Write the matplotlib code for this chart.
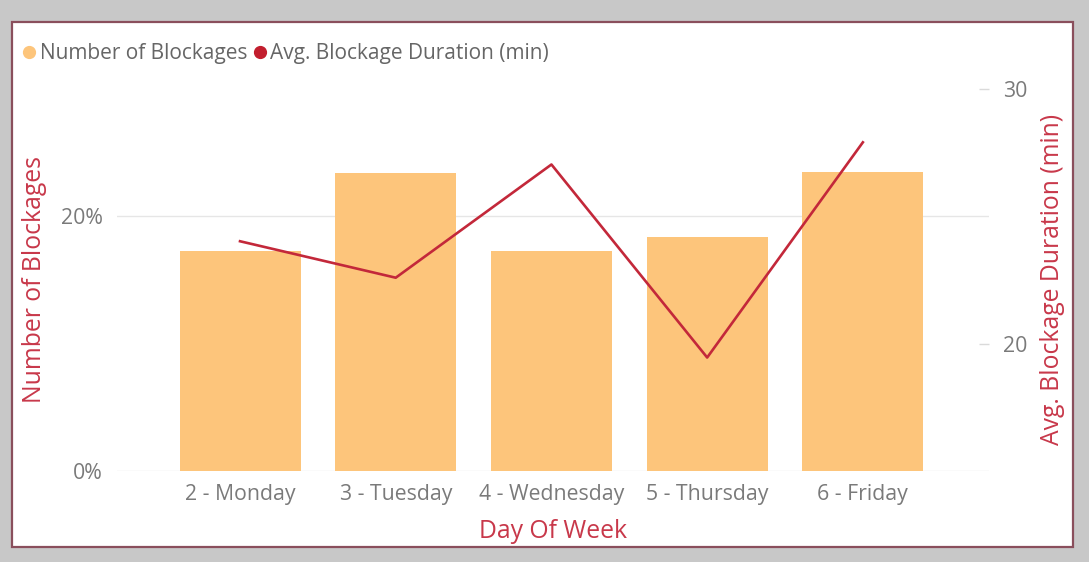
"""Blockages by day of week: share of blockages (bars) and average
blockage duration (line, right axis)."""
import matplotlib

matplotlib.use("Agg")
import matplotlib.pyplot as plt
from matplotlib.lines import Line2D
from matplotlib.patches import Rectangle
from matplotlib.ticker import FuncFormatter

plt.rcParams["font.family"] = ["Open Sans", "DejaVu Sans"]

days = ["2 - Monday", "3 - Tuesday", "4 - Wednesday", "5 - Thursday", "6 - Friday"]
blockage_share = [0.1728, 0.2340, 0.1728, 0.1835, 0.2342]   # fraction of all blockages
avg_duration = [24.01, 22.58, 27.02, 19.45, 27.89]          # minutes

BAR_C = "#FDC57B"
LINE_C = "#C3283A"
TITLE_C = "#C8384A"
TICK_C = "#7A7A7A"
GRID_C = "#E6E6E6"
FS_TICK = 15.3
FS_TITLE = 17.8

W, H = 1089, 562
fig = plt.figure(figsize=(W / 100, H / 100), dpi=100, facecolor="#C8C8C8")

# white card with the thin maroon border (behind the axes)
fig.patches.append(Rectangle((12.5 / W, 1 - 547 / H), (1073 - 12.5) / W, (547 - 21.5) / H,
                             transform=fig.transFigure, facecolor="white",
                             edgecolor="#8A4F5C", lw=1.6, zorder=-5))

ax = fig.add_axes([117 / W, 1 - 471 / H, (989 - 117) / W, (471 - 88.5) / H])
ax.set_facecolor("none")
x = range(len(days))
ax.bar(x, blockage_share, width=0.777, color=BAR_C, zorder=2)
ax.set_xlim(-0.79, 4.81)
ax.set_ylim(0, 0.30)
ax.set_yticks([0, 0.2])
ax.yaxis.set_major_formatter(FuncFormatter(lambda v, _: f"{v:.0%}"))
ax.grid(axis="y", color=GRID_C, lw=1, zorder=0)
ax.set_axisbelow(True)
ax.set_xticks(list(x))
ax.set_xticklabels(days)
ax.tick_params(axis="x", length=0, pad=9.5, labelsize=FS_TICK, labelcolor=TICK_C)
ax.tick_params(axis="y", length=0, pad=10, labelsize=FS_TICK, labelcolor=TICK_C)
for s in ax.spines.values():
    s.set_visible(False)
ax.set_xlabel("Day Of Week", color=TITLE_C, fontsize=FS_TITLE, labelpad=10)
ax.set_ylabel("Number of Blockages", color=TITLE_C, fontsize=FS_TITLE, labelpad=10)

ax2 = ax.twinx()
ax2.plot(list(x), avg_duration, color=LINE_C, lw=1.9, zorder=3)
ax2.set_ylim(15, 30)
ax2.set_yticks([20, 30])
ax2.tick_params(axis="y", direction="in", length=7, width=1, color="#DADADA",
                pad=10, labelsize=FS_TICK, labelcolor=TICK_C)
for s in ax2.spines.values():
    s.set_visible(False)
ax2.set_ylabel("Avg. Blockage Duration (min)", color=TITLE_C, fontsize=FS_TITLE, labelpad=9)

handles = [Line2D([], [], ls="", marker="o", ms=8.5, color=BAR_C),
           Line2D([], [], ls="", marker="o", ms=8.5, color="#C21E2E")]
fig.legend(handles, ["Number of Blockages", "Avg. Blockage Duration (min)"],
           loc="center left", bbox_to_anchor=(23 / W, 1 - 54 / H), ncol=2,
           frameon=False, fontsize=15, labelcolor="#666666",
           handlelength=0.6, handletextpad=0.2, columnspacing=0.3,
           borderaxespad=0, borderpad=0)

fig.savefig("out.png", dpi=100, facecolor=fig.get_facecolor())
